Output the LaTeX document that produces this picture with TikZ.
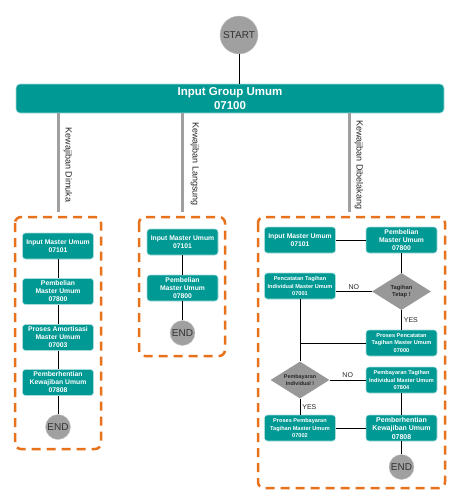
\documentclass[tikz,border=0pt]{standalone}
\usepackage{fontspec}
\setmainfont{Liberation Sans}
\usepackage{tikz}
\usetikzlibrary{shapes.geometric}
\definecolor{tosca}{RGB}{0,153,148}
\definecolor{oranye}{RGB}{232,114,28}
\definecolor{abu}{RGB}{160,160,160}
\tikzset{
  proses/.style={rectangle, rounded corners=3pt, fill=tosca, draw=tosca!35, line width=0.6pt, text=white, align=center, minimum width=71pt, minimum height=26pt, inner sep=1pt, font=\bfseries\fontsize{6.8}{8}\selectfont},
  kecil/.style={font=\bfseries\fontsize{5.6}{7.2}\selectfont},
  ujung/.style={circle, fill=abu, draw=abu!60, minimum size=25pt, inner sep=0pt, text=black!80, font=\fontsize{10}{12}\selectfont},
  putusan/.style={diamond, aspect=1.6, fill=abu!95!black, minimum width=59pt, minimum height=37pt, inner sep=0pt, align=center, text=black!85, font=\bfseries\fontsize{5.8}{7}\selectfont},
  garis/.style={draw=black, line width=0.8pt},
  cabang/.style={draw=abu, line width=3pt},
  kotak/.style={draw=oranye, line width=2.5pt, dash pattern=on 9pt off 6pt, rounded corners=6pt},
  ket/.style={font=\fontsize{7}{8}\selectfont, text=black!85, inner sep=2pt},
  judul/.style={rotate=-90, text=black!85, font=\fontsize{9}{10}\selectfont}
}

\begin{document}
\begin{tikzpicture}[x=1pt,y=-1pt]
\useasboundingbox (0,0) rectangle (460,504);

\node[ujung, minimum size=38pt] (start) at (239,35) {START};
\node[proses, minimum width=428pt, minimum height=29pt, rounded corners=4pt, font=\bfseries\fontsize{11.5}{14}\selectfont] (grup) at (230,98.5) {Input Group Umum\\07100};
\draw[garis] (start) -- (start |- grup.north);

\coordinate (dimuka) at (58,212);
\coordinate (langsung) at (182,212);
\coordinate (belakang) at (349,212);
\draw[cabang] (grup.south -| dimuka) -- (dimuka);
\draw[cabang] (grup.south -| langsung) -- (langsung);
\draw[cabang] (grup.south -| belakang) -- (belakang);
\node[judul] (lDimuka) at (68,165) {Kewajiban Dimuka};
\node[judul] (lLangsung) at (195,164) {Kewajiban Langsung};
\node[judul] (lBelakang) at (359,165) {Kewajiban Dibelakang};

\draw[kotak] (15,217) rectangle (101,449);
\draw[kotak] (139,217) rectangle (225,356);
\draw[kotak] (258,217) rectangle (445,488);

\node[proses] (a1) at (58,246) {Input Master Umum\\07101};
\node[proses] (a2) at (58,291.5) {Pembelian\\Master Umum\\07800};
\node[proses] (a3) at (58,337.5) {Proses Amortisasi\\Master Umum\\07003};
\node[proses] (a4) at (58,382.5) {Pemberhentian\\Kewajiban Umum\\07808};
\node[ujung] (aEnd) at (58,427) {END};
\draw[garis] (a1) -- (a2) -- (a3) -- (a4) -- (aEnd);

\node[proses] (b1) at (182.5,242) {Input Master Umum\\07101};
\node[proses] (b2) at (182.5,288) {Pembelian\\Master Umum\\07800};
\node[ujung] (bEnd) at (182.5,333) {END};
\draw[garis] (b1) -- (b2) -- (bEnd);

\node[proses] (c1) at (300,240) {Input Master Umum\\07101};
\node[proses] (c2) at (401.5,240) {Pembelian\\Master Umum\\07800};
\node[proses, kecil] (c3) at (300,286) {Pencatatan Tagihan\\Individual Master Umum\\07001};
\node[putusan] (tetap) at (401.5,291.5) {Tagihan\\Tetap !};
\node[proses, kecil] (c4) at (401.5,343) {Proses Pencatatan\\Tagihan Master Umum\\07000};
\node[putusan, font=\bfseries\fontsize{5.4}{6.8}\selectfont] (bayar) at (300,380) {Pembayaran\\Individual !};
\node[proses, kecil] (c5) at (401.5,380) {Pembayaran Tagihan\\Individual Master Umum\\07804};
\node[proses, kecil] (c6) at (300,428) {Proses Pembayaran\\Tagihan Master Umum\\07002};
\node[proses, font=\bfseries\fontsize{7}{8.5}\selectfont] (c7) at (401.5,428) {Pemberhentian\\Kewajiban Umum\\07808};
\node[ujung] (cEnd) at (401.5,467) {END};

\draw[garis] (c1) -- (c2);
\draw[garis] (c2) -- (tetap);
\draw[garis] (tetap.west) -- node[ket, above] {NO} (tetap.west -| c3.east);
\draw[garis] (tetap) -- node[ket, right] {YES} (c4);
\draw[garis] (c3) -- (bayar);
\draw[garis] (c4.west) -- (c4.west -| c3.south);
\draw[garis] (bayar) -- node[ket, above] {NO} (c5);
\draw[garis] (bayar) -- node[ket, right] {YES} (c6);
\draw[garis] (c5) -- (c7);
\draw[garis] (c6) -- (c7);
\draw[garis] (c7) -- (cEnd);
\end{tikzpicture}
\end{document}
